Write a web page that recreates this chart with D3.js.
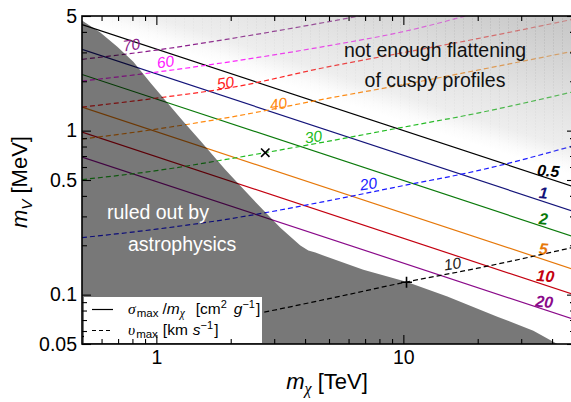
<!DOCTYPE html>
<html><head><meta charset="utf-8">
<script src="https://cdn.jsdelivr.net/npm/d3@7/dist/d3.min.js"></script>
<style>
body{margin:0;background:#fff;}
svg{display:block;font-family:"Liberation Sans",Arial,Helvetica,sans-serif;}
.gr{font-family:"Liberation Serif","DejaVu Serif",serif;font-style:italic;}
</style></head><body>
<svg id="c" width="571" height="402"></svg>
<script>
// ---------------- data ----------------
const sigmaLevels = ["0.5","1","2","5","10","20"];
const sigmaMx = [0.5, 50];
const sigmaMV = [
  [4.43, 0.450],
  [3.13, 0.318],
  [2.20, 0.223],
  [1.39, 0.141],
  [0.98, 0.099],
  [0.69, 0.070]
];
const vLevels = ["70","60","50","40","30","20","10"];
const vMx = [0.5, 1, 2, 5, 10, 20, 50];
const vMV = [
  [2.721, 3.097, 3.64, 4.62, 5.62, null, null],
  [2.004, 2.274, 2.634, 3.298, 4.015, 5.24, null],
  [1.391, 1.578, 1.829, 2.456, 2.99, 3.64, 4.82],
  [0.888, 1.021, 1.209, 1.578, 1.908, 2.338, 3.074],
  [0.503, 0.570, 0.675, 0.863, 1.05, 1.279, 1.741],
  [0.2227, 0.2507, 0.2906, 0.3743, 0.462, 0.570, 0.816],
  [0.0554, 0.0625, 0.0719, 0.0945, 0.1184, 0.145, 0.196]
];
// ruled-out region boundary
const ruledMx = [0.5, 0.593, 0.695, 0.807, 0.946, 1.108, 1.286, 1.507, 1.903, 2.402, 3.177, 3.828, 4.125, 4.404, 4.745, 6.887, 10.28, 15.07, 24.02, 33.6, 42.0];
const ruledMV = [4.69, 3.96, 3.25, 2.634, 1.962, 1.481, 1.135, 0.869, 0.578, 0.396, 0.256, 0.199, 0.1855, 0.1804, 0.173, 0.142, 0.120, 0.0973, 0.0734, 0.0603, 0.05];
// benchmark markers
const crossMx = [2.76], crossMV = [0.734];
const plusMx = [10.3], plusMV = [0.119];
// ticks
const xMajor = [1, 10], xTickLabels = ["1", "10"];
const xMinor = [0.6,0.7,0.8,0.9,2,3,4,5,6,7,8,9,20,30,40];
const yMajor = [0.05, 0.1, 0.5, 1, 5], yTickLabels = ["0.05","0.1","0.5","1","5"];
const yMinor = [0.06,0.07,0.08,0.09,0.2,0.3,0.4,0.6,0.7,0.8,0.9,2,3,4];

// ---------------- styles / placement ----------------
const sigmaColors = ["#000000","#14147a","#0b7a0b","#e6780a","#c40010","#8a0a8a"];
const vColors = ["#8a1a8a","#ff22ff","#ff2020","#ff8a10","#22bb22","#1a1aff","#000000"];
const sigmaLabelAt = [[38.6,0.570],[36.9,0.419],[36.9,0.291],[36.9,0.191],[37.6,0.1305],[37.2,0.0907]];
const vLabelAt = [[0.792,3.345],[1.087,2.634],[1.903,1.962],[3.118,1.461],[4.32,0.919],[7.22,0.475],[15.79,0.1545]];

const x = d3.scaleLog().domain([0.5, 50]).range([82, 576]);
const y = d3.scaleLog().domain([0.05, 5]).range([344, 16]);

const svg = d3.select("#c");
const defs = svg.append("defs");
defs.append("clipPath").attr("id","plot").append("rect")
  .attr("x",82).attr("y",16).attr("width",494).attr("height",328);
// shading gradient (upper right "not enough flattening" region)
const lgr = defs.append("linearGradient").attr("id","shade")
  .attr("gradientUnits","userSpaceOnUse")
  .attr("x1",400).attr("y1",121).attr("x2",445).attr("y2",-22);
[[0,0],[0.06,0.05],[0.17,0.22],[0.43,0.36],[0.93,0.68],[1,0.72]].forEach(s=>
  lgr.append("stop").attr("offset",s[0]).attr("stop-color","#b0b0b0").attr("stop-opacity",s[1]));
const mgr = defs.append("linearGradient").attr("id","maskg")
  .attr("gradientUnits","userSpaceOnUse")
  .attr("x1",400).attr("y1",121).attr("x2",445).attr("y2",-22);
[[0,"#000"],[0.1,"#333"],[1,"#fff"]].forEach(s=>
  mgr.append("stop").attr("offset",s[0]).attr("stop-color",s[1]));
defs.append("mask").attr("id","smask").append("rect")
  .attr("x",82).attr("y",16).attr("width",494).attr("height",328).attr("fill","url(#maskg)");
const pat = defs.append("pattern").attr("id","stripes").attr("patternUnits","userSpaceOnUse")
  .attr("width",9).attr("height",3);
pat.append("rect").attr("x",4).attr("width",1).attr("height",2).attr("fill","#000").attr("fill-opacity",0.07);

const plot = svg.append("g").attr("clip-path","url(#plot)");

// solid sigma contours
const lineS = d3.line().x(d=>x(d[0])).y(d=>y(d[1]));
sigmaMV.forEach((v,i)=>{
  plot.append("path").datum(sigmaMx.map((m,j)=>[m,v[j]]))
    .attr("d",lineS).attr("fill","none").attr("stroke",sigmaColors[i]).attr("stroke-width",1.2);
});
// dashed v contours
const lineV = d3.line().defined(d=>d[1]!=null).x(d=>x(d[0])).y(d=>y(d[1])).curve(d3.curveMonotoneX);
vMV.forEach((v,i)=>{
  plot.append("path").datum(vMx.map((m,j)=>[m,v[j]]))
    .attr("d",lineV).attr("fill","none").attr("stroke",vColors[i]).attr("stroke-width",1.2)
    .attr("stroke-dasharray","5,3");
});

// shading overlay
plot.append("rect").attr("x",82).attr("y",16).attr("width",494).attr("height",328)
  .attr("fill","url(#shade)");
plot.append("rect").attr("x",82).attr("y",16).attr("width",494).attr("height",328)
  .attr("fill","url(#stripes)").attr("mask","url(#smask)");

// ruled-out region
const ruledPts = ruledMx.map((m,i)=>[m,ruledMV[i]]);
ruledPts.push([0.5,0.05],[0.4,0.05],[0.4,6],[0.5,6]);
plot.append("path").datum(ruledPts)
  .attr("d",d3.line().x(d=>x(d[0])).y(d=>y(d[1])).curve(d3.curveLinearClosed))
  .attr("fill","#000").attr("fill-opacity",0.53);

// markers
plot.selectAll(".cr").data(crossMx).enter().append("path")
  .attr("d",(d,i)=>{const cx=x(d),cy=y(crossMV[i]),s=4.2;return `M${cx-s},${cy-s}L${cx+s},${cy+s}M${cx-s},${cy+s}L${cx+s},${cy-s}`;})
  .attr("stroke","#000").attr("stroke-width",1.6);
plot.selectAll(".pl").data(plusMx).enter().append("path")
  .attr("d",(d,i)=>{const cx=x(d),cy=y(plusMV[i]),s=5.5;return `M${cx-s},${cy}L${cx+s},${cy}M${cx},${cy-s}L${cx},${cy+s}`;})
  .attr("stroke","#000").attr("stroke-width",1.6);

// contour labels
sigmaLevels.forEach((t,i)=>{
  const px=x(sigmaLabelAt[i][0]), py=y(sigmaLabelAt[i][1]);
  svg.append("text").attr("transform",`translate(${px},${py}) rotate(5)`)
    .attr("text-anchor","middle").attr("dy","0.36em")
    .attr("font-size",16).attr("font-weight","bold").attr("font-style","italic")
    .attr("fill",sigmaColors[i]).text(t);
});
vLevels.forEach((t,i)=>{
  const px=x(vLabelAt[i][0]), py=y(vLabelAt[i][1]);
  svg.append("text").attr("transform",`translate(${px},${py}) rotate(-9)`)
    .attr("text-anchor","middle").attr("dy","0.36em")
    .attr("font-size",15.5).attr("font-style","italic")
    .attr("fill",i===6?"#222":vColors[i]).text(t);
});

// annotations
svg.append("text").attr("x",435).attr("y",57).attr("text-anchor","middle").attr("font-size",19.5).attr("fill","#111").text("not enough flattening");
svg.append("text").attr("x",435).attr("y",87).attr("text-anchor","middle").attr("font-size",19.5).attr("fill","#111").text("of cuspy profiles");
svg.append("text").attr("x",107).attr("y",219).attr("font-size",19.5).attr("fill","#fff").text("ruled out by");
svg.append("text").attr("x",128).attr("y",251).attr("font-size",19.5).attr("fill","#fff").text("astrophysics");

// legend
const lg = svg.append("g");
lg.append("rect").attr("x",84).attr("y",297).attr("width",178).attr("height",46).attr("fill","#fff");
lg.append("line").attr("x1",92).attr("x2",113).attr("y1",309.5).attr("y2",309.5).attr("stroke","#000").attr("stroke-width",1.2);
lg.append("line").attr("x1",92).attr("x2",113).attr("y1",330.5).attr("y2",330.5).attr("stroke","#000").attr("stroke-width",1.2).attr("stroke-dasharray","4,3");
const t1 = lg.append("text").attr("x",128).attr("y",314).attr("font-size",15.5);
t1.append("tspan").attr("class","gr").text("σ");
t1.append("tspan").attr("font-size",11.5).attr("dx",1).attr("dy",3).text("max");
t1.append("tspan").attr("dx",4).attr("dy",-3).text("/");
t1.append("tspan").attr("font-style","italic").text("m");
t1.append("tspan").attr("class","gr").attr("font-size",11.5).attr("dy",3).text("χ");
t1.append("tspan").attr("dx",11).attr("dy",-3).text("[cm");
t1.append("tspan").attr("font-size",11).attr("dy",-6).text("2");
t1.append("tspan").attr("font-style","italic").attr("dx",7).attr("dy",6).text("g");
t1.append("tspan").attr("font-size",11).attr("dy",-6).text("−1");
t1.append("tspan").attr("dx",1).attr("dy",6).text("]");
const t2 = lg.append("text").attr("x",128).attr("y",335).attr("font-size",15.5);
t2.append("tspan").attr("class","gr").text("υ");
t2.append("tspan").attr("font-size",11.5).attr("dx",1).attr("dy",3).text("max");
t2.append("tspan").attr("dx",5).attr("dy",-3).text("[km");
t2.append("tspan").attr("font-style","italic").attr("dx",5).text("s");
t2.append("tspan").attr("font-size",11).attr("dy",-6).text("−1");
t2.append("tspan").attr("dx",1).attr("dy",6).text("]");

// axes
function ax(gen, tr, vals, size, labels){
  const a = gen.tickValues(vals).tickSize(size).tickPadding(labels?6:0)
    .tickFormat(labels?((d,i)=>labels[i]):()=> "");
  const g = svg.append("g").attr("transform",tr).call(a);
  g.select(".domain").remove();
  g.selectAll(".tick line").attr("stroke","#000").attr("stroke-width",1.1);
  g.selectAll("text").attr("font-size",19.5).attr("fill","#000").attr("font-family","Liberation Sans, Arial, sans-serif");
  return g;
}
ax(d3.axisBottom(x),"translate(0,344)",xMajor,-9,xTickLabels);
ax(d3.axisBottom(x),"translate(0,344)",xMinor,-5,null);
ax(d3.axisTop(x),"translate(0,16)",xMajor,-9,null);
ax(d3.axisTop(x),"translate(0,16)",xMinor,-5,null);
ax(d3.axisLeft(y),"translate(82,0)",yMajor,-9,yTickLabels).selectAll("text").attr("x",-5);
ax(d3.axisLeft(y),"translate(82,0)",yMinor,-5,null);
ax(d3.axisRight(y),"translate(576,0)",yMajor,-9,null);
ax(d3.axisRight(y),"translate(576,0)",yMinor,-6,null);
svg.append("rect").attr("x",82).attr("y",16).attr("width",494).attr("height",328)
  .attr("fill","none").attr("stroke","#000").attr("stroke-width",1.6);

// axis titles
const xl = svg.append("text").attr("x",327).attr("y",389).attr("text-anchor","middle").attr("font-size",22);
xl.append("tspan").attr("font-style","italic").text("m");
xl.append("tspan").attr("class","gr").attr("font-size",16).attr("dy",5).text("χ");
xl.append("tspan").attr("dy",-5).text(" [TeV]");
const yl = svg.append("text").attr("transform","translate(27,182) rotate(-90)").attr("text-anchor","middle").attr("font-size",22);
yl.append("tspan").attr("font-style","italic").text("m");
yl.append("tspan").attr("font-style","italic").attr("font-size",15).attr("dy",5).text("V");
yl.append("tspan").attr("dy",-5).text(" [MeV]");
</script>
</body></html>
